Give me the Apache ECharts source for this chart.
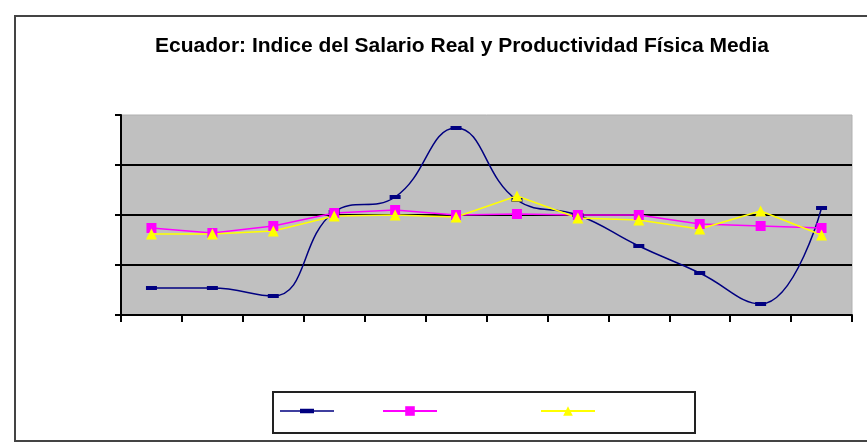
<!DOCTYPE html>
<html>
<head>
<meta charset="utf-8">
<script src="https://cdn.jsdelivr.net/npm/echarts@6/dist/echarts.min.js"></script>
<style>
  html, body { margin: 0; padding: 0; background: #ffffff; }
  #myChart { width: 867px; height: 444px; }
</style>
</head>
<body>
<div id="myChart"></div>
<script>
// datos (escala sin etiquetas)
let periodos = ['1', '2', '3', '4', '5', '6', '7', '8', '9', '10', '11', '12']
let salario = [27, 27, 19, 103, 118, 187, 115, 100, 69, 42, 11, 107]
let productividad = [87, 82, 89, 102, 105, 100, 101, 100, 100, 91, 89, 87]
let media = [81, 81, 84, 99, 100, 98, 119, 97, 95, 86, 104, 80]
let serieNombres = ['Salario Real', 'Productividad', 'Media']

let myChart = echarts.init(document.getElementById('myChart'))

function leyenda(nombre, x, icono) {
    let item = { name: nombre }
    if (icono) item.icon = icono
    return {
        data: [item],
        left: x,
        top: 405,
        itemWidth: 54,
        itemHeight: 12,
        itemGap: 0,
        padding: 0,
        formatter: () => '',
        selectedMode: false
    }
}

myChart.setOption({
    animation: false,
    title: {
        text: 'Ecuador: Indice del Salario Real y Productividad Física Media',
        left: 457,
        textAlign: 'center',
        top: 31,
        textStyle: {
            fontFamily: 'Liberation Sans',
            fontWeight: 'bold',
            fontSize: 21,
            color: '#000'
        }
    },
    graphic: [
        {
            type: 'rect',
            shape: { x: 15, y: 16, width: 880, height: 425 },
            style: { fill: 'none', stroke: '#444', lineWidth: 2 },
            silent: true
        },
        {
            type: 'rect',
            shape: { x: 273, y: 392, width: 422, height: 41 },
            style: { fill: 'none', stroke: '#222', lineWidth: 2 },
            silent: true
        }
    ],
    legend: [
        leyenda(serieNombres[0], 280, 'path://M0,1.5h54v1.5h-54z M20,0h14v4.5h-14z'),
        leyenda(serieNombres[1], 382),
        leyenda(serieNombres[2], 540)
    ],
    grid: {
        left: 121,
        right: 15,
        top: 115,
        bottom: 129,
        show: true,
        backgroundColor: '#c0c0c0',
        borderColor: '#b0b0b0',
        borderWidth: 1
    },
    xAxis: {
        type: 'category',
        data: periodos,
        boundaryGap: true,
        axisLine: { show: true, lineStyle: { color: '#000', width: 2 } },
        axisTick: { show: true, alignWithLabel: false, interval: 0, length: 7, lineStyle: { color: '#000', width: 2 } },
        axisLabel: { show: false, interval: 0 },
        splitLine: { show: false }
    },
    yAxis: {
        type: 'value',
        min: 0,
        max: 200,
        interval: 50,
        axisLine: { show: true, lineStyle: { color: '#000', width: 2 } },
        axisTick: { show: true, length: 6, lineStyle: { color: '#000', width: 2 } },
        axisLabel: { show: false },
        splitLine: { show: true, showMinLine: false, showMaxLine: false, lineStyle: { color: '#000', width: 2 } }
    },
    series: [
        {
            name: serieNombres[0],
            type: 'line',
            data: salario,
            smooth: 0.45,
            symbol: 'rect',
            symbolSize: [11, 4],
            itemStyle: { color: '#000080' },
            lineStyle: { color: '#000080', width: 1.5 }
        },
        {
            name: serieNombres[1],
            type: 'line',
            data: productividad,
            symbol: 'rect',
            symbolSize: 10,
            itemStyle: { color: '#ff00ff' },
            lineStyle: { color: '#ff00ff', width: 1.5 }
        },
        {
            name: serieNombres[2],
            type: 'line',
            data: media,
            symbol: 'triangle',
            symbolSize: 11,
            itemStyle: { color: '#ffff00' },
            lineStyle: { color: '#ffff00', width: 1.5 }
        }
    ]
})
</script>
</body>
</html>
